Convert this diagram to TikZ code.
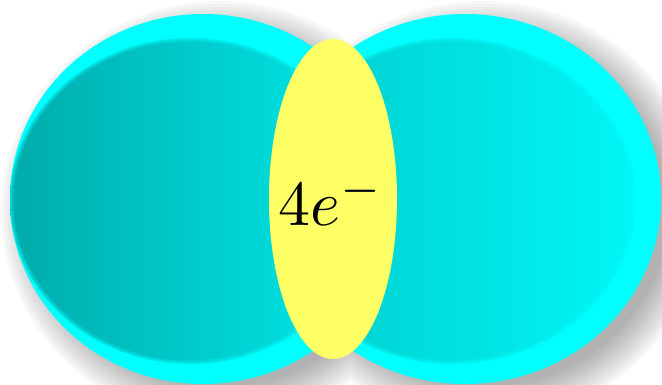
\documentclass[tikz,border=0pt]{standalone}
\usetikzlibrary{shapes.geometric}
\definecolor{rim}{HTML}{00FFFF}
\definecolor{innerdark}{HTML}{00ABAB}
\definecolor{innerlight}{HTML}{00EAEA}
\definecolor{innerdarkR}{HTML}{00CACA}
\definecolor{innerlightR}{HTML}{00F6F6}
\definecolor{pair}{HTML}{FFFF66}
\tikzset{
  lobe/.style={fill=rim},
  bond/.style={ellipse, fill=pair, inner sep=0pt, minimum width=128pt, minimum height=320pt},
  softedge/.style={draw=rim, line width=#1, opacity=0.25}
}
\begin{document}
\begin{tikzpicture}[x=1pt,y=1pt]
\useasboundingbox (0,0) rectangle (662,384);
% soft shadow
\foreach \i in {0,...,12} {
  \fill[black, opacity=0.026]
    (220,172) ellipse ({193+26-\i*3} and {185+26-\i*3})
    (482,172) ellipse ({196+26-\i*3} and {185+26-\i*3});
}
% left lobe
\fill[lobe] (203,185) ellipse (193 and 185);
\begin{scope}
  \clip (203,185) ellipse (193 and 185);
  \shade[left color=innerdark, right color=innerlight] (190.5,183) ellipse (180.5 and 163);
  \foreach \w in {2,4,7} { \draw[softedge=\w] (190.5,183) ellipse (180.5 and 163); }
\end{scope}
% right lobe
\fill[lobe] (465,185) ellipse (196 and 185);
\begin{scope}
  \clip (465,185) ellipse (196 and 185);
  \shade[left color=innerdarkR, right color=innerlightR] (452.5,183) ellipse (183.5 and 163);
  \foreach \w in {2,4,7} { \draw[softedge=\w] (452.5,183) ellipse (183.5 and 163); }
\end{scope}
% shared electron pair
\node[bond] (pair) at (333,185) {};
\node[inner sep=0pt] (label) at (331,184) {\scalebox{6.4}{$4e^{-}$}};
\end{tikzpicture}
\end{document}
